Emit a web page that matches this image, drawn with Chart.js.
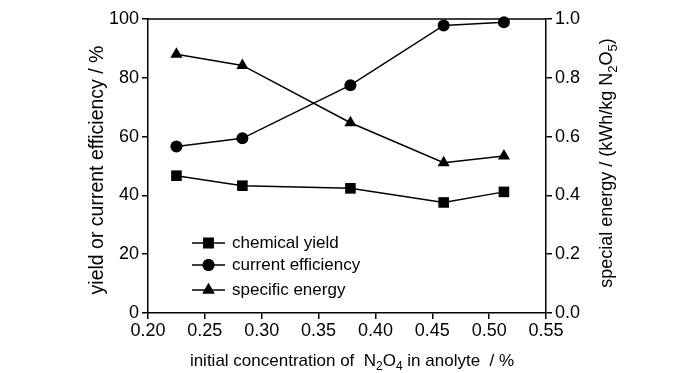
<!DOCTYPE html>
<html>
<head>
<meta charset="utf-8">
<script src="https://cdn.jsdelivr.net/npm/chart.js@4.4.1/dist/chart.umd.min.js"></script>
<style>
  html, body { margin: 0; padding: 0; background: #fff; }
  #wrap { width: 700px; height: 373px; }
</style>
</head>
<body>
<div id="wrap"><canvas id="c" width="700" height="373"></canvas></div>
<script>
// ---- data ----
const concentration = [0.225, 0.283, 0.378, 0.46, 0.513];
const chemicalYield = [46.7, 43.3, 42.4, 37.6, 41.2];
const currentEfficiency = [56.6, 59.4, 77.5, 97.8, 98.9];
const specificEnergy = [0.88, 0.842, 0.647, 0.511, 0.534];

const seriesNames = ['chemical yield', 'current efficiency', 'specific energy'];
const xTitle = ['initial concentration of  N', '2', 'O', '4', ' in anolyte  / %'];
const yTitle = 'yield or current efficiency / %';
const y2Title = ['special energy / (kWh/kg N', '2', 'O', '5', ')'];

const SANS = "'Liberation Sans', Arial, sans-serif";

const pts = (xs, ys) => xs.map((x, i) => ({ x: x, y: ys[i] }));

const styles = [
  { pointStyle: 'rect', radius: 7.5 },
  { pointStyle: 'circle', radius: 6 },
  { pointStyle: 'triangle', radius: 7 }
];

// rich text helper: single digits are drawn as subscripts
function drawRich(ctx, parts, x, y, size, font, align) {
  const subSize = Math.round(size * 0.72);
  const widths = parts.map(p => {
    const isSub = /^[0-9]$/.test(p);
    ctx.font = (isSub ? subSize : size) + 'px ' + font;
    return ctx.measureText(p).width;
  });
  const total = widths.reduce((a, b) => a + b, 0);
  let cx = align === 'center' ? x - total / 2 : x;
  parts.forEach((p, i) => {
    const isSub = /^[0-9]$/.test(p);
    ctx.font = (isSub ? subSize : size) + 'px ' + font;
    ctx.textBaseline = 'alphabetic';
    ctx.textAlign = 'left';
    ctx.fillText(p, cx, y + (isSub ? size * 0.25 : 0));
    cx += widths[i];
  });
}

const decor = {
  id: 'decor',
  afterDraw(chart) {
    const ctx = chart.ctx;
    const a = chart.chartArea;
    ctx.save();
    // top frame line
    ctx.strokeStyle = '#000';
    ctx.lineWidth = 1.5;
    ctx.beginPath();
    ctx.moveTo(a.left, a.top);
    ctx.lineTo(a.right, a.top);
    ctx.stroke();

    ctx.fillStyle = '#000';
    // x title
    drawRich(ctx, xTitle, (a.left + a.right) / 2 + 5, 366, 17, SANS, 'center');
    // left y title
    ctx.save();
    ctx.translate(103, 170);
    ctx.rotate(-Math.PI / 2);
    ctx.font = '19.5px ' + SANS;
    ctx.textAlign = 'center';
    ctx.textBaseline = 'alphabetic';
    ctx.fillText(yTitle, 0, 0);
    ctx.restore();
    // right y title (reads bottom to top)
    ctx.save();
    ctx.translate(612, 163);
    ctx.rotate(-Math.PI / 2);
    drawRich(ctx, y2Title, 0, 0, 18, SANS, 'center');
    ctx.restore();

    // legend inside plot
    const lx0 = 192, lx1 = 225, tx = 232;
    const rows = [243, 265, 290];
    chart.data.datasets.forEach((ds, i) => {
      const y = rows[i];
      ctx.strokeStyle = '#000';
      ctx.lineWidth = 1.5;
      ctx.beginPath();
      ctx.moveTo(lx0, y);
      ctx.lineTo(lx1, y);
      ctx.stroke();
      Chart.helpers.drawPoint(ctx, {
        pointStyle: styles[i].pointStyle,
        radius: styles[i].radius,
        rotation: 0,
        borderWidth: 0
      }, (lx0 + lx1) / 2, y);
      ctx.fillStyle = '#000';
      ctx.fill();
      ctx.font = '17px ' + SANS;
      ctx.textAlign = 'left';
      ctx.textBaseline = 'middle';
      ctx.fillText(ds.label, tx, y);
    });
    ctx.restore();
  }
};

const mk = (label, data, axis, i) => ({
  label: label,
  data: data,
  yAxisID: axis,
  borderColor: '#000',
  backgroundColor: '#000',
  borderWidth: 1.5,
  pointStyle: styles[i].pointStyle,
  pointRadius: styles[i].radius,
  pointHoverRadius: styles[i].radius,
  pointBackgroundColor: '#000',
  pointBorderColor: '#000',
  pointBorderWidth: 0,
  tension: 0,
  clip: false
});

const tickFont = { family: SANS, size: 18 };
const axisCommon = {
  grid: { drawOnChartArea: false, drawTicks: true, tickLength: 6, color: '#000', lineWidth: 1.5 },
  border: { display: true, color: '#000', width: 1.5 }
};

new Chart(document.getElementById('c'), {
  type: 'line',
  data: {
    datasets: [
      mk(seriesNames[0], pts(concentration, chemicalYield), 'y', 0),
      mk(seriesNames[1], pts(concentration, currentEfficiency), 'y', 1),
      mk(seriesNames[2], pts(concentration, specificEnergy), 'y2', 2)
    ]
  },
  options: {
    responsive: false,
    animation: false,
    devicePixelRatio: 1,
    layout: { padding: { top: 19, left: 0, right: 0, bottom: 0 } },
    plugins: { legend: { display: false }, tooltip: { enabled: false } },
    scales: {
      x: Object.assign({}, axisCommon, {
        type: 'linear', position: 'bottom', min: 0.2, max: 0.55,
        afterFit: s => { s.height = 60; },
        ticks: { stepSize: 0.05, color: '#000', font: tickFont, padding: 1, maxRotation: 0,
          callback: v => Number(v).toFixed(2) }
      }),
      y: Object.assign({}, axisCommon, {
        position: 'left', min: 0, max: 100,
        afterFit: s => { s.width = 148; },
        ticks: { stepSize: 20, color: '#000', font: tickFont, padding: 3 }
      }),
      y2: Object.assign({}, axisCommon, {
        position: 'right', min: 0, max: 1,
        afterFit: s => { s.width = 154; },
        ticks: { stepSize: 0.2, color: '#000', font: tickFont, padding: 3,
          callback: v => Number(v).toFixed(1) }
      })
    }
  },
  plugins: [decor]
});
</script>
</body>
</html>
